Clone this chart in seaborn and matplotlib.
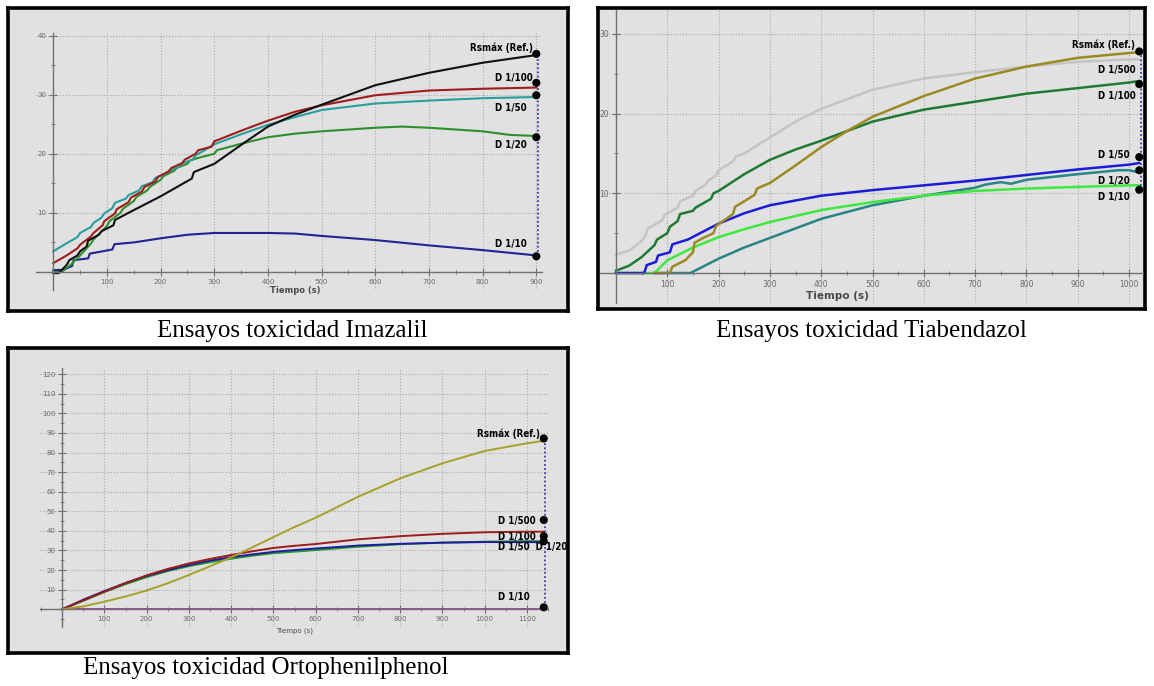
"""
Three toxicity-test panels (Imazalil, Tiabendazol, Ortophenilphenol):
response vs time for several dilutions, with end-point markers and labels.
"""

import matplotlib
matplotlib.use("Agg")
import matplotlib.pyplot as plt
from matplotlib import font_manager
from matplotlib.ticker import MultipleLocator
import seaborn as sns

W, H = 1154, 686  # output size in pixels (dpi 100)

# ---------------- Imazalil ----------------
ima_black_x = [0, 10, 25, 30, 45, 50, 62, 65, 85, 90, 112, 115, 140, 200, 258, 262, 300, 350, 400, 450, 500, 600, 700, 800, 900]
ima_black_y = [-0.2, -0.2, 1.2, 2.0, 2.8, 3.5, 4.3, 5.3, 6.3, 6.9, 7.9, 8.8, 10.0, 12.8, 15.8, 16.9, 18.3, 21.5, 24.6, 26.6, 28.3, 31.6, 33.7, 35.4, 36.7]
ima_red_x = [0, 25, 45, 50, 70, 75, 92, 95, 115, 118, 140, 145, 165, 170, 190, 195, 215, 220, 240, 245, 265, 270, 295, 300, 350, 400, 450, 500, 600, 700, 800, 900]
ima_red_y = [1.5, 2.8, 4.0, 4.6, 6.0, 6.6, 7.9, 8.6, 9.9, 10.6, 11.8, 12.6, 13.6, 14.4, 15.3, 16.1, 17.0, 17.6, 18.4, 19.0, 20.0, 20.6, 21.2, 22.1, 23.9, 25.6, 27.1, 28.2, 29.9, 30.7, 31.0, 31.2]
ima_teal_x = [0, 20, 45, 50, 70, 75, 90, 95, 110, 115, 135, 140, 160, 165, 185, 190, 210, 215, 235, 240, 260, 265, 300, 350, 400, 450, 500, 600, 700, 800, 900]
ima_teal_y = [3.5, 4.6, 5.9, 6.6, 7.6, 8.3, 9.2, 9.9, 10.8, 11.7, 12.4, 13.0, 13.8, 14.5, 15.2, 15.9, 16.6, 17.1, 17.8, 18.4, 19.0, 19.7, 21.6, 23.3, 24.9, 26.2, 27.4, 28.5, 29.0, 29.4, 29.6]
ima_green_x = [0, 15, 30, 50, 70, 75, 100, 105, 125, 130, 150, 155, 175, 180, 200, 205, 225, 230, 250, 255, 270, 300, 305, 350, 400, 450, 500, 600, 650, 700, 800, 850, 900]
ima_green_y = [0.0, 0.0, 1.0, 2.8, 4.8, 5.5, 7.8, 8.6, 10.0, 10.7, 12.0, 12.7, 13.8, 14.4, 15.6, 16.2, 17.1, 17.6, 18.3, 18.9, 19.3, 20.0, 20.6, 21.7, 22.8, 23.4, 23.8, 24.4, 24.6, 24.4, 23.8, 23.2, 23.0]
ima_blue_x = [0, 20, 35, 38, 65, 68, 110, 114, 150, 200, 250, 300, 400, 450, 500, 600, 700, 800, 900]
ima_blue_y = [0.3, 0.4, 1.0, 2.0, 2.3, 3.1, 3.8, 4.7, 5.0, 5.7, 6.3, 6.6, 6.6, 6.5, 6.1, 5.4, 4.5, 3.7, 2.8]
ima_end_x = 900
ima_dots = [36.9, 32.0, 29.9, 22.8, 2.65]
ima_labels = ["Rsmáx (Ref.)", "D 1/100", "D 1/50", "D 1/20", "D 1/10"]

# ---------------- Tiabendazol ----------------
tia_gray_x = [0, 25, 50, 58, 62, 90, 95, 120, 125, 150, 155, 175, 180, 195, 200, 228, 233, 250, 300, 350, 400, 500, 600, 700, 800, 900, 1000, 1020]
tia_gray_y = [2.3, 2.8, 4.0, 4.8, 5.6, 6.6, 7.3, 8.2, 9.0, 9.7, 10.3, 11.1, 11.6, 12.2, 12.9, 14.0, 14.6, 15.0, 17.0, 19.0, 20.6, 23.0, 24.4, 25.2, 25.9, 26.5, 26.8, 26.8]
tia_olive_x = [75, 105, 110, 135, 150, 153, 170, 190, 195, 228, 232, 270, 275, 300, 350, 400, 450, 500, 600, 700, 800, 900, 1000, 1020]
tia_olive_y = [0.0, 0.0, 0.8, 1.6, 2.6, 3.8, 4.4, 5.0, 5.9, 7.4, 8.3, 9.8, 10.6, 11.3, 13.5, 15.8, 17.8, 19.6, 22.2, 24.4, 25.9, 27.0, 27.6, 27.7]
tia_dkgreen_x = [0, 25, 50, 75, 80, 100, 105, 120, 125, 150, 155, 185, 190, 200, 250, 300, 350, 400, 450, 500, 600, 700, 800, 900, 1000, 1020]
tia_dkgreen_y = [0.3, 0.9, 2.0, 3.5, 4.2, 5.0, 5.8, 6.5, 7.4, 7.8, 8.2, 9.3, 10.0, 10.3, 12.4, 14.2, 15.5, 16.6, 17.8, 19.0, 20.5, 21.5, 22.5, 23.2, 23.9, 24.1]
tia_blue_x = [0, 55, 60, 78, 82, 105, 110, 140, 200, 250, 300, 400, 500, 600, 700, 800, 900, 1000, 1020]
tia_blue_y = [0.0, 0.0, 1.0, 1.4, 2.2, 2.6, 3.6, 4.2, 6.2, 7.5, 8.5, 9.7, 10.4, 11.0, 11.6, 12.3, 13.0, 13.6, 13.8]
tia_lime_x = [0, 75, 100, 150, 200, 250, 300, 400, 500, 600, 700, 800, 900, 1000, 1020]
tia_lime_y = [0.0, 0.0, 1.6, 3.2, 4.5, 5.5, 6.4, 7.9, 8.9, 9.7, 10.3, 10.6, 10.8, 11.0, 11.0]
tia_teal_x = [75, 145, 200, 250, 300, 400, 500, 600, 700, 720, 750, 770, 800, 900, 980, 1000, 1020]
tia_teal_y = [0.0, 0.0, 1.8, 3.2, 4.4, 6.8, 8.5, 9.7, 10.7, 11.1, 11.4, 11.2, 11.7, 12.4, 12.9, 12.9, 12.6]
tia_end_x = 1020
tia_dots = [27.8, 23.7, 14.55, 12.9, 10.45]
tia_labels = ["Rsmáx (Ref.)", "D 1/500", "D 1/100", "D 1/50", "D 1/20", "D 1/10"]

# ---------------- Ortophenilphenol ----------------
orto_x = [0, 50, 100, 150, 200, 250, 300, 350, 400, 450, 500, 550, 600, 700, 800, 900, 1000, 1100, 1140]
orto_olive_y = [0.0, 1.5, 3.9, 6.5, 9.6, 13.3, 17.5, 22.0, 26.5, 31.6, 36.8, 42.0, 46.7, 57.4, 66.8, 74.5, 80.8, 84.7, 86.0]
orto_red_y = [0.0, 4.6, 9.0, 13.4, 17.3, 20.6, 23.4, 25.7, 27.7, 29.6, 31.3, 32.4, 33.3, 35.7, 37.3, 38.5, 39.3, 39.6, 39.6]
orto_blue_y = [0.0, 4.9, 9.3, 13.4, 17.0, 20.0, 22.6, 24.8, 26.6, 28.0, 29.3, 30.2, 31.0, 32.5, 33.4, 34.0, 34.3, 34.3, 34.2]
orto_green_y = [0.0, 4.3, 8.8, 12.8, 16.4, 19.5, 22.0, 24.0, 25.8, 27.3, 28.6, 29.4, 30.2, 31.9, 33.2, 34.0, 34.5, 34.8, 34.8]
orto_purple_x = [0, 1140]
orto_purple_y = [0.3, 0.3]
orto_end_x = 1140
orto_dots = [87.2, 45.6, 37.3, 34.7, 1.0]
orto_labels = ["Rsmáx (Ref.)", "D 1/500", "D 1/100", "D 1/50  D 1/20", "D 1/10"]

captions = ["Ensayos toxicidad Imazalil", "Ensayos toxicidad Tiabendazol",
            "Ensayos toxicidad Ortophenilphenol"]

PANEL_BG = "#e1e1e1"
AXIS_GRAY = "#707070"

installed = {f.name for f in font_manager.fontManager.ttflist}
if "Liberation Sans Narrow" in installed:
    LABEL_FONT = dict(family="Liberation Sans Narrow", fontsize=8.5, fontweight="bold")
else:
    LABEL_FONT = dict(family="DejaVu Sans", fontsize=7, fontweight="bold", fontstretch="condensed")


def px_rect(x0, y0, x1, y1):
    """pixel box (top-left origin) -> figure fraction rect"""
    return [x0 / W, 1 - y1 / H, (x1 - x0) / W, (y1 - y0) / H]


def make_panel(fig, box, inner, xlim, ylim, xticks, yticks, xminor, yminor, tick_size=5):
    frame = fig.add_axes(px_rect(*box))
    frame.set_facecolor(PANEL_BG)
    frame.set_xticks([])
    frame.set_yticks([])
    for sp in frame.spines.values():
        sp.set_linewidth(2.6)
        sp.set_color("black")

    ax = fig.add_axes(px_rect(*inner))
    ax.set_facecolor("none")
    ax.set_xlim(*xlim)
    ax.set_ylim(*ylim)
    ax.spines["left"].set_position(("data", 0))
    ax.spines["bottom"].set_position(("data", 0))
    ax.spines["top"].set_visible(False)
    ax.spines["right"].set_visible(False)
    for side in ("left", "bottom"):
        ax.spines[side].set_color(AXIS_GRAY)
        ax.spines[side].set_linewidth(1.0)
    ax.set_xticks(xticks)
    ax.set_yticks(yticks)
    ax.xaxis.set_minor_locator(MultipleLocator(xminor))
    ax.yaxis.set_minor_locator(MultipleLocator(yminor))
    ax.tick_params(which="major", direction="inout", length=6, width=0.8,
                   color=AXIS_GRAY, labelsize=tick_size, labelcolor="#6a6a6a", pad=2)
    ax.tick_params(which="minor", direction="inout", length=3, width=0.6, color=AXIS_GRAY)
    ax.grid(True, which="major", linestyle=":", color="#a9a9a9", linewidth=0.8)
    ax.set_axisbelow(True)
    ax.set_xlabel("")
    ax.set_ylabel("")
    return ax


def draw_series(ax, x, y, color, lw=1.5):
    sns.lineplot(x=x, y=y, ax=ax, color=color, linewidth=lw, sort=False,
                 estimator=None, legend=False)


def draw_endpoints(ax, xe, dots):
    ax.plot([xe + 3, xe + 3], [min(dots), max(dots)], linestyle=(0, (1, 1.3)),
            color="#3b3bb0", linewidth=1.3, zorder=4, clip_on=False)
    sns.scatterplot(x=[xe] * len(dots), y=dots, ax=ax, color="black", s=34,
                    edgecolor="none", zorder=5, legend=False, clip_on=False)


fig = plt.figure(figsize=(W / 100, H / 100), dpi=100)
fig.patch.set_facecolor("white")

# ---- Imazalil ----
ax1 = make_panel(fig, (8, 8, 568, 311), (36.1, 32.6, 541.7, 290.3),
                 (-32, 910), (-3.1, 40.5), range(100, 901, 100), [10, 20, 30, 40], 50, 5)
draw_series(ax1, ima_blue_x, ima_blue_y, "#232394")
draw_series(ax1, ima_green_x, ima_green_y, "#2e8f2e")
draw_series(ax1, ima_teal_x, ima_teal_y, "#2a9d9d")
draw_series(ax1, ima_red_x, ima_red_y, "#a01c1c")
draw_series(ax1, ima_black_x, ima_black_y, "#101010")
draw_endpoints(ax1, ima_end_x, ima_dots)
ax1.text(894, 37.9, ima_labels[0], ha="right", va="center", **LABEL_FONT)
for lab, yv in zip(ima_labels[1:], [32.8, 27.7, 21.4, 4.8]):
    ax1.text(823, yv, lab, ha="left", va="center", **LABEL_FONT)
fig.text(295 / W, 1 - 290 / H, "Tiempo (s)", ha="center", va="center",
         fontsize=6, fontweight="bold", color="#4a4a4a")

# ---- Tiabendazol ----
ax2 = make_panel(fig, (598, 8, 1145, 309), (600, 10, 1143, 303),
                 (-31.2, 1027.3), (-3.76, 33.0), range(100, 1001, 100), [10, 20, 30], 50, 5,
                 tick_size=5.5)
draw_series(ax2, tia_gray_x, tia_gray_y, "#c4c4c4", lw=1.8)
draw_series(ax2, tia_teal_x, tia_teal_y, "#2a8585", lw=1.8)
draw_series(ax2, tia_lime_x, tia_lime_y, "#3ee83e", lw=1.8)
draw_series(ax2, tia_blue_x, tia_blue_y, "#1c1cd6", lw=1.8)
draw_series(ax2, tia_dkgreen_x, tia_dkgreen_y, "#1f7a34", lw=1.8)
draw_series(ax2, tia_olive_x, tia_olive_y, "#9b8a22", lw=1.8)
draw_endpoints(ax2, tia_end_x, tia_dots)
ax2.text(1011.7, 28.6, tia_labels[0], ha="right", va="center", **LABEL_FONT)
for lab, yv in zip(tia_labels[1:], [25.5, 22.2, 14.8, 11.5, 9.5]):
    ax2.text(939.6, yv, lab, ha="left", va="center", **LABEL_FONT)
fig.text(837 / W, 1 - 296 / H, "Tiempo (s)", ha="center", va="center",
         fontsize=7.5, fontweight="bold", color="#4a4a4a")

# ---- Ortophenilphenol ----
ax3 = make_panel(fig, (8, 348, 568, 653), (39.7, 368.3, 548, 626.7),
                 (-53.3, 1150), (-8.9, 123), range(100, 1101, 100), range(10, 121, 10), 50, 5)
draw_series(ax3, orto_purple_x, orto_purple_y, "#a040a8", lw=1.4)
draw_series(ax3, orto_x, orto_green_y, "#2a9a2a", lw=1.4)
draw_series(ax3, orto_x, orto_blue_y, "#1c1ca0", lw=1.4)
draw_series(ax3, orto_x, orto_red_y, "#9c1c1c", lw=1.4)
draw_series(ax3, orto_x, orto_olive_y, "#a8a028", lw=1.4)
draw_endpoints(ax3, orto_end_x, orto_dots)
ax3.text(1131, 89.8, orto_labels[0], ha="right", va="center", **LABEL_FONT)
for lab, yv in zip(orto_labels[1:], [45.1, 37.0, 31.6, 6.1]):
    ax3.text(1031, yv, lab, ha="left", va="center", **LABEL_FONT)
fig.text(295 / W, 1 - 631 / H, "Tiempo (s)", ha="center", va="center",
         fontsize=5, color="#4a4a4a")

# ---- captions under each panel ----
for cap, (cx, cy) in zip(captions, [(292, 331), (871, 331), (266, 668)]):
    fig.text(cx / W, 1 - cy / H, cap, ha="center", va="center",
             family="Liberation Serif", fontsize=18, color="black")

fig.savefig("out.png", dpi=100)
plt.close(fig)
